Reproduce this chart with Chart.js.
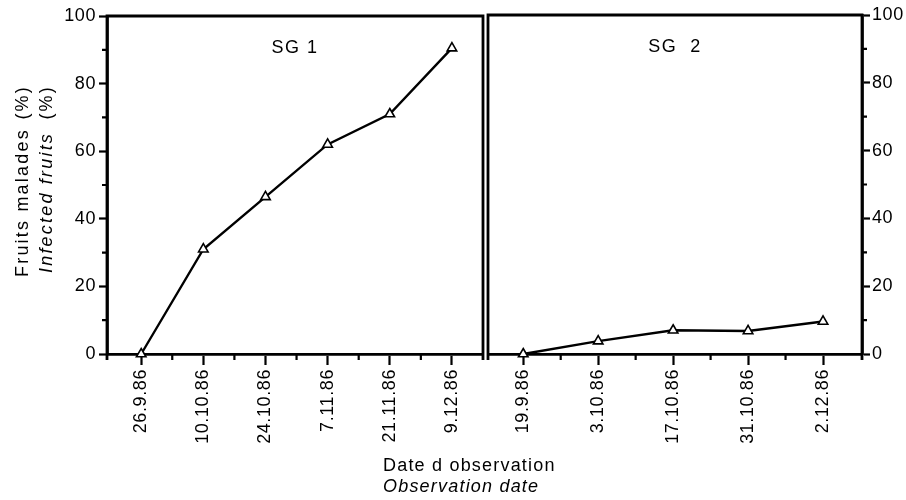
<!DOCTYPE html>
<html>
<head>
<meta charset="utf-8">
<script src="https://cdn.jsdelivr.net/npm/chart.js@4.4.0/dist/chart.umd.min.js"></script>
<style>
  html, body { margin: 0; padding: 0; background: #fff; }
  #wrap { position: relative; width: 906px; height: 500px; }
  #wrap canvas { position: absolute; left: 0; top: 0; }
</style>
</head>
<body>
<div id="wrap">
  <canvas id="sg1" width="906" height="500"></canvas>
  <canvas id="sg2" width="906" height="500"></canvas>
</div>
<script>
  // values (% infected fruits)
  var sg1Dates = ["26.9.86", "10.10.86", "24.10.86", "7.11.86", "21.11.86", "9.12.86"];
  var sg1Values = [0, 31, 46.5, 62, 71, 90.5];
  var sg2Dates = ["19.9.86", "3.10.86", "17.10.86", "31.10.86", "2.12.86"];
  var sg2Values = [0, 3.8, 7, 6.8, 9.6];
  var yTicks = [0, 20, 40, 60, 80, 100];
  var yMinor = [10, 30, 50, 70, 90];

  var FONT = "'Liberation Sans', Arial, sans-serif";
  Chart.defaults.font.family = FONT;
  Chart.defaults.font.size = 18;
  Chart.defaults.color = '#000';

  // frame, minor ticks and panel title
  var framePlugin = {
    id: 'frame',
    beforeDraw: function(chart) {
      chart.ctx.letterSpacing = '0.6px';
    },
    afterDraw: function(chart, args, opts) {
      var ctx = chart.ctx, a = chart.chartArea;
      var xs = chart.scales.x, ys = chart.scales.y;
      ctx.save();
      ctx.strokeStyle = '#000';
      ctx.lineWidth = 2.8;
      ctx.beginPath();
      ctx.moveTo(a.left, a.bottom + 6);
      ctx.lineTo(a.left, a.top);
      ctx.lineTo(a.right, a.top);
      ctx.lineTo(a.right, a.bottom + 6);
      ctx.stroke();

      ctx.lineWidth = 2.2;
      ctx.beginPath();
      for (var i = 0; i < opts.count - 1; i++) {
        var px = xs.getPixelForValue(i + 0.5);
        ctx.moveTo(px, a.bottom);
        ctx.lineTo(px, a.bottom + 6);
      }
      yMinor.forEach(function(v) {
        var py = ys.getPixelForValue(v);
        if (opts.side === 'left') {
          ctx.moveTo(a.left - 5, py);
          ctx.lineTo(a.left, py);
        } else {
          ctx.moveTo(a.right, py);
          ctx.lineTo(a.right + 5, py);
        }
      });
      ctx.stroke();

      ctx.fillStyle = '#000';
      ctx.font = '18px ' + FONT;
      ctx.letterSpacing = '1.5px';
      ctx.textAlign = 'center';
      ctx.textBaseline = 'alphabetic';
      ctx.fillText(opts.title, (a.left + a.right) / 2, a.top + 37);
      ctx.restore();
    }
  };

  // axis titles, drawn once on the left chart
  var titlesPlugin = {
    id: 'titles',
    afterDraw: function(chart) {
      var ctx = chart.ctx;
      ctx.save();
      ctx.fillStyle = '#000';
      ctx.textBaseline = 'alphabetic';
      ctx.letterSpacing = '1.2px';

      ctx.textAlign = 'left';
      ctx.font = '18px ' + FONT;
      ctx.fillText('Date d observation', 383, 471);
      ctx.font = 'italic 18px ' + FONT;
      ctx.fillText('Observation date', 383, 492);

      ctx.letterSpacing = '2.2px';
      ctx.save();
      ctx.translate(28, 277);
      ctx.rotate(-Math.PI / 2);
      ctx.font = '18px ' + FONT;
      ctx.textAlign = 'left';
      ctx.fillText('Fruits malades', 0, 0);
      ctx.textAlign = 'right';
      ctx.fillText('(%)', 192, 0);
      ctx.restore();

      ctx.save();
      ctx.translate(52, 273);
      ctx.rotate(-Math.PI / 2);
      ctx.font = 'italic 18px ' + FONT;
      ctx.textAlign = 'left';
      ctx.fillText('Infected fruits', 0, 0);
      ctx.font = '18px ' + FONT;
      ctx.textAlign = 'right';
      ctx.fillText('(%)', 188, 0);
      ctx.restore();

      ctx.restore();
    }
  };

  function makeChart(id, dates, values, opt) {
    return new Chart(document.getElementById(id), {
      type: 'line',
      data: {
        datasets: [{
          data: values.map(function(v, i) { return { x: i, y: v }; }),
          borderColor: '#000',
          borderWidth: 2.4,
          pointStyle: 'triangle',
          pointRadius: 5.5,
          pointBackgroundColor: '#fff',
          pointBorderColor: '#000',
          pointBorderWidth: 1.6,
          tension: 0,
          clip: false
        }]
      },
      options: {
        responsive: false,
        animation: false,
        events: [],
        layout: { padding: opt.padding },
        plugins: {
          legend: { display: false },
          tooltip: { enabled: false },
          frame: { title: opt.title, side: opt.side, count: dates.length }
        },
        scales: {
          x: {
            type: 'linear',
            min: opt.xMin,
            max: opt.xMax,
            afterBuildTicks: function(s) {
              s.ticks = dates.map(function(d, i) { return { value: i }; });
            },
            afterFit: function(s) { s.height = 146; },
            ticks: {
              minRotation: 90,
              maxRotation: 90,
              autoSkip: false,
              padding: 4,
              callback: function(v, i) { return dates[i]; }
            },
            grid: { drawOnChartArea: false, tickLength: 11, tickWidth: 2.2, tickColor: '#000' },
            border: { color: '#000', width: 2.8 }
          },
          y: {
            position: opt.side,
            min: 0,
            max: 100,
            afterBuildTicks: function(s) {
              s.ticks = yTicks.map(function(v) { return { value: v }; });
            },
            afterFit: function(s) { s.width = opt.yWidth; },
            ticks: { padding: opt.side === 'left' ? 3 : 2 },
            grid: { drawOnChartArea: false, tickLength: 8, tickWidth: 2.2, tickColor: '#000' },
            border: { color: '#000', width: 2.8 }
          }
        }
      },
      plugins: opt.extra ? [framePlugin, titlesPlugin] : [framePlugin]
    });
  }

  makeChart('sg1', sg1Dates, sg1Values, {
    title: 'SG 1', side: 'left', xMin: -0.55, xMax: 5.5, yWidth: 107,
    padding: { left: 0, right: 906 - 483, top: 16, bottom: 0 }, extra: true
  });
  makeChart('sg2', sg2Dates, sg2Values, {
    title: 'SG  2', side: 'right', xMin: -0.47, xMax: 4.52, yWidth: 44,
    padding: { left: 488, right: 0, top: 15, bottom: 0 }, extra: false
  });
</script>
</body>
</html>
